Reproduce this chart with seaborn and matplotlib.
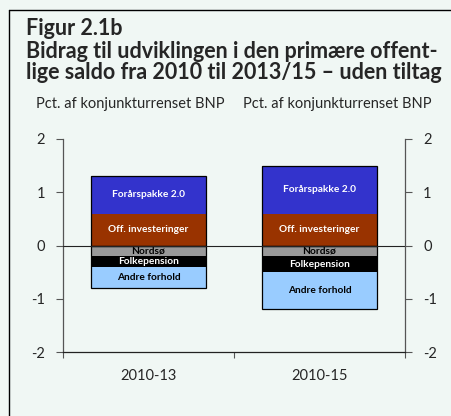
import matplotlib
matplotlib.use("Agg")
import matplotlib.pyplot as plt
from matplotlib.lines import Line2D
import seaborn as sns
import pandas as pd

# data (pct. of structural GDP)
periods = ["2010-13", "2010-15"]
forarspakke = [0.7, 0.9]
off_invest = [0.6, 0.6]
nordso = [-0.2, -0.2]
folkepension = [-0.2, -0.3]
andre = [-0.4, -0.7]

seg_names = ["Forårspakke 2.0", "Off. investeringer", "Nordsø", "Folkepension", "Andre forhold"]
seg_colors = ["#3333cc", "#993300", "#999999", "#000000", "#99ccff"]
seg_text = ["white", "white", "black", "white", "black"]

bg = "#f0f7f4"
sns.set_theme(style="white")
plt.rcParams["font.family"] = ["Lato", "DejaVu Sans"]

fig = plt.figure(figsize=(4.51, 4.16), dpi=100, facecolor=bg)
ax = fig.add_axes([0.1397, 0.1538, 0.7583, 0.5121])
ax.set_facecolor(bg)

df = pd.DataFrame({"period": periods, "fp": forarspakke, "oi": off_invest,
                   "ns": nordso, "fk": folkepension, "an": andre})
# cumulative stacks, drawn back to front
df["pos_top"] = df["oi"] + df["fp"]
df["neg_mid"] = df["ns"] + df["fk"]
df["neg_bot"] = df["neg_mid"] + df["an"]

w = 0.667
layers = [("pos_top", seg_colors[0]), ("oi", seg_colors[1]),
          ("neg_bot", seg_colors[4]), ("neg_mid", seg_colors[3]), ("ns", seg_colors[2])]
for col, c in layers:
    sns.barplot(data=df, x="period", y=col, color=c, width=w, errorbar=None,
                saturation=1, linewidth=0, ax=ax)
for col in ["pos_top", "neg_bot"]:
    sns.barplot(data=df, x="period", y=col, width=w, errorbar=None, fill=False,
                edgecolor="black", linewidth=0.9, ax=ax)

# segment labels
for i in range(len(periods)):
    mids = [df.oi[i] + df.fp[i] / 2, df.oi[i] / 2, df.ns[i] / 2,
            df.ns[i] + df.fk[i] / 2, df.neg_mid[i] + df.an[i] / 2]
    for name, m, tc in zip(seg_names, mids, seg_text):
        ax.text(i, m, name, ha="center", va="center", fontsize=7.3,
                fontweight="bold", color=tc)

ax.axhline(0, color="#222222", lw=0.8, zorder=5)

ax.set_ylim(-2, 2)
ax.set_xlim(-0.5, 1.5)
ax.set_yticks([-2, -1, 0, 1, 2])
ax.set_yticklabels(["-2", "-1", "0", "1", "2"])
ax.set_xlabel("")
ax.set_ylabel("")
ax.set_xticks([0, 1])
ax.set_xticklabels(periods)
ax.set_xticks([-0.5, 0.5, 1.5], minor=True)
ax.tick_params(axis="x", which="major", length=0, pad=12, labelsize=10.5)
ax.tick_params(axis="x", which="minor", direction="out", length=4, width=0.8,
               color="#555555", bottom=True)
ax.tick_params(axis="y", direction="out", length=5, width=0.8, color="#555555",
               left=True, right=True, labelleft=True, labelright=True,
               labelsize=10.5, pad=8)
ax.spines["top"].set_visible(False)
for s in ["left", "right"]:
    ax.spines[s].set_color("#555555")
    ax.spines[s].set_linewidth(0.9)
ax.spines["bottom"].set_color("#222222")
ax.spines["bottom"].set_linewidth(0.9)

# frame lines and titles
fig.add_artist(Line2D([0.02, 1.0], [0.976, 0.976], color="black", lw=1.0))
fig.add_artist(Line2D([0.02, 0.02], [0.0, 0.976], color="black", lw=1.0))
fig.text(0.058, 0.916, "Figur 2.1b", fontsize=15.5, fontweight="bold", va="baseline")
fig.text(0.058, 0.861, "Bidrag til udviklingen i den primære offent-",
         fontsize=15.5, fontweight="bold", va="baseline")
fig.text(0.058, 0.810, "lige saldo fra 2010 til 2013/15 – uden tiltag",
         fontsize=15.5, fontweight="bold", va="baseline")
fig.text(0.288, 0.740, "Pct. af konjunkturrenset BNP", fontsize=10.5,
         ha="center", va="baseline")
fig.text(0.747, 0.740, "Pct. af konjunkturrenset BNP", fontsize=10.5,
         ha="center", va="baseline")

fig.savefig("out.png", dpi=100, facecolor=bg)
